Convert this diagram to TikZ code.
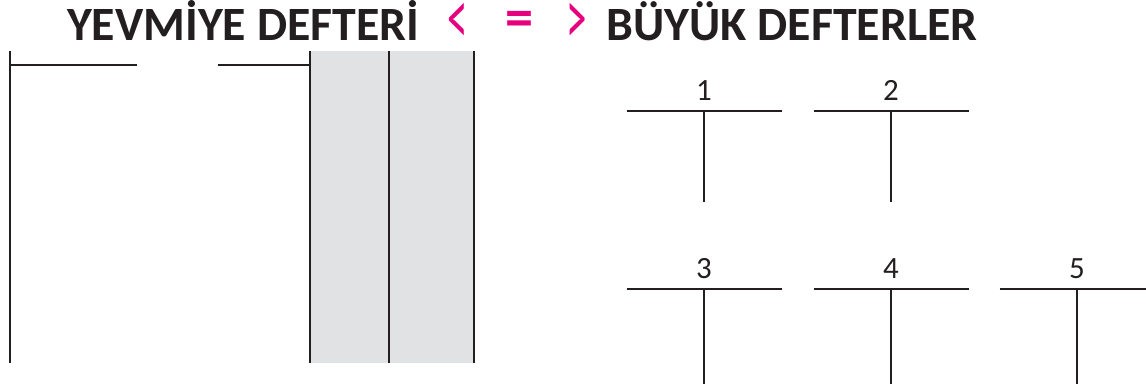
\documentclass[tikz,border=0pt]{standalone}
\usepackage{fontspec}
\usepackage{graphicx}
\setmainfont{Carlito}
\usetikzlibrary{positioning}
\definecolor{inkblack}{HTML}{231F20}
\definecolor{ledgergray}{HTML}{E1E2E4}
\definecolor{signpink}{HTML}{E6007E}

\begin{document}
\begin{tikzpicture}[x=0.025cm, y=-0.025cm, line cap=butt,
    rule/.style={draw=inkblack, line width=2.1pt},
    heading/.style={inner sep=0pt, anchor=base, text=inkblack, font=\fontsize{34}{36}\selectfont\bfseries},
    sign/.style={inner sep=0pt, text=signpink},
    chevron/.style={sign, anchor=center, font=\fontsize{56}{58}\selectfont},
    acctno/.style={inner sep=0pt, anchor=base, text=inkblack, font=\fontsize{22}{24}\selectfont}]
    \useasboundingbox (0,0) rectangle (1146,383);

    % Headings
    \node[heading] (yevmiye) at (243,40) {YEVM\.IYE DEFTER\.I};
    \node[heading] (buyuk) at (792,40) {BÜYÜK DEFTERLER};
    \node[chevron] (lt) at (458,24) {\scalebox{0.52}[1]{<}};
    \node[sign, anchor=base, font=\fontsize{40}{42}\selectfont\bfseries] (eq) at (520,36) {=};
    \node[chevron] (gt) at (577,24) {\scalebox{0.52}[1]{>}};

    % Journal page: amount columns
    \fill[ledgergray] (310,51) rectangle (474,363);
    \draw[rule] (10,51) -- (10,363);
    \draw[rule] (10,65) -- (137,65);
    \draw[rule] (218,65) -- (310,65);
    \foreach \x in {310,389,474}
        \draw[rule] (\x,51) -- (\x,363);

    % Ledger T-accounts
    \foreach \n/\x/\y/\b in {1/704/111/202, 2/891/111/202, 3/704/289/385, 4/891/289/385, 5/1077/289/385} {
        \coordinate (t\n) at (\x,\y);
        \node[acctno] (no\n) at (\x,\y-11) {\n};
        \draw[rule] ([xshift=-77.5*0.025cm]t\n) -- ([xshift=77.5*0.025cm]t\n);
        \draw[rule] (t\n) -- (\x,\b);
    }
\end{tikzpicture}
\end{document}
